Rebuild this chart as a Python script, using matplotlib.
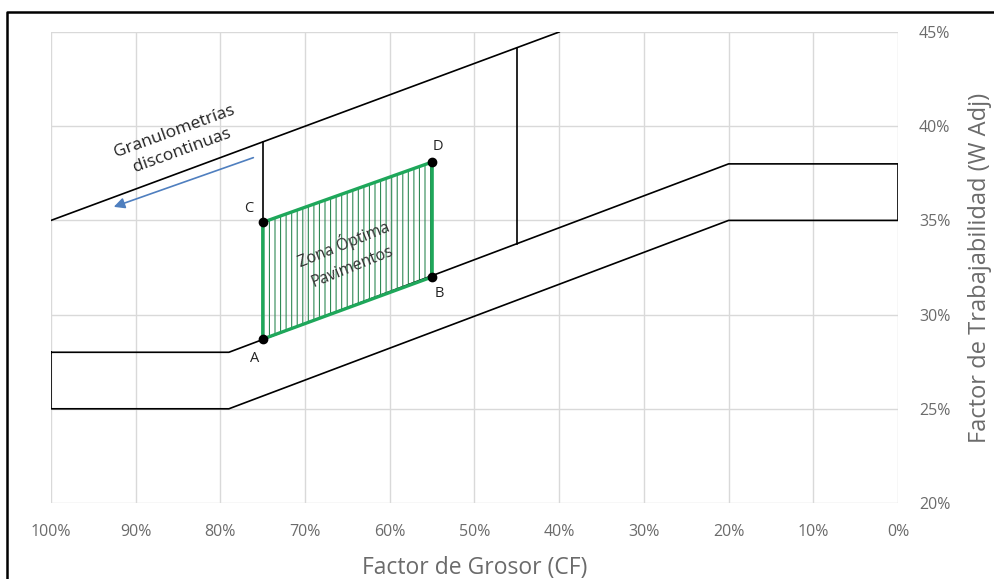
import matplotlib
matplotlib.use("Agg")
import matplotlib.pyplot as plt
from matplotlib.lines import Line2D

plt.rcParams['font.family'] = ['Open Sans', 'DejaVu Sans']
plt.rcParams['hatch.linewidth'] = 0.8

# axis ticks (percent)
x_ticks = [100, 90, 80, 70, 60, 50, 40, 30, 20, 10, 0]
y_ticks = [20, 25, 30, 35, 40, 45]

# limit of discontinuous gradings
limit_x = [100, 40]
limit_y = [35, 45]

# main band (closed outline)
band_x = [100, 79, 20, 0, 0, 20, 79, 100, 100]
band_y = [28, 28, 38, 38, 35, 35, 25, 25, 28]

# vertical separators (x, y_bottom, y_top)
sep_x = [75, 45]
sep_y0 = [34.9, 33.76]
sep_y1 = [39.17, 44.17]

# optimum paving zone A, B, D, C
zone_lbl = ["A", "B", "D", "C"]
zone_x = [75, 55, 55, 75]
zone_y = [28.7, 32.0, 38.1, 34.9]

grid_c = "#d9d9d9"
text_c = "#6b6b6b"

fig = plt.figure(figsize=(9.95, 5.79), dpi=100)
ax = fig.add_axes([51 / 995, 76 / 579, 847 / 995, 471 / 579])

ax.plot(limit_x, limit_y, color="black", lw=1.2)
ax.plot(band_x, band_y, color="black", lw=1.2)
for x, y0, y1 in zip(sep_x, sep_y0, sep_y1):
    ax.plot([x, x], [y0, y1], color="black", lw=1.2)

# hatched zone
ax.fill(zone_x, zone_y, facecolor="none", edgecolor="#2f8a55", hatch="|||", lw=0)
ax.fill(zone_x, zone_y, facecolor="none", edgecolor="#1ea75a", lw=2.4, zorder=3)
ax.plot(zone_x, zone_y, "o", color="black", ms=6, zorder=4)

offsets = {"A": (-6, -14), "B": (5, -12), "D": (4, 11), "C": (-10, 10)}
for lbl, x, y in zip(zone_lbl, zone_x, zone_y):
    ax.annotate(lbl, (x, y), xytext=offsets[lbl], textcoords="offset points",
                ha="center", va="center", fontsize=10.5, color="#222222")

ax.text(65.0, 33.2, "Zona Óptima\nPavimentos", rotation=22, rotation_mode="anchor",
        ha="center", va="center", fontsize=11.5, color="#333333", linespacing=1.55)

ax.text(85.0, 39.2, "Granulometrías\ndiscontinuas", rotation=20, rotation_mode="anchor",
        ha="center", va="center", fontsize=12.5, color="#222222", linespacing=1.4)
ax.annotate("", xy=(92.9, 35.67), xytext=(75.8, 38.38),
            arrowprops=dict(arrowstyle="-|>", color="#4f7fbf", lw=1.2, mutation_scale=16))

ax.set_xlim(100, 0)
ax.set_ylim(20, 45)
ax.set_xticks(x_ticks)
ax.set_yticks(y_ticks)
ax.set_xticklabels([f"{v}%" for v in x_ticks])
ax.set_yticklabels([f"{v}%" for v in y_ticks])
ax.yaxis.tick_right()
ax.yaxis.set_label_position("right")
ax.tick_params(length=0, labelsize=11.5, colors=text_c)
ax.tick_params(axis="x", pad=15)
ax.tick_params(axis="y", pad=15)
ax.grid(True, color=grid_c, lw=1)
for s in ax.spines.values():
    s.set_visible(False)
ax.set_axisbelow(True)

ax.set_xlabel("Factor de Grosor (CF)", fontsize=16.5, color=text_c, labelpad=12)
ax.set_ylabel("Factor de Trabajabilidad (W Adj)", fontsize=17, color=text_c, labelpad=13)

# outer frame (left and top visible)
fig.add_artist(Line2D([7 / 995, 7 / 995, 1], [0, 1 - 12 / 579, 1 - 12 / 579],
                      transform=fig.transFigure, color="black", lw=1.8))

fig.savefig("out.png", dpi=100)
